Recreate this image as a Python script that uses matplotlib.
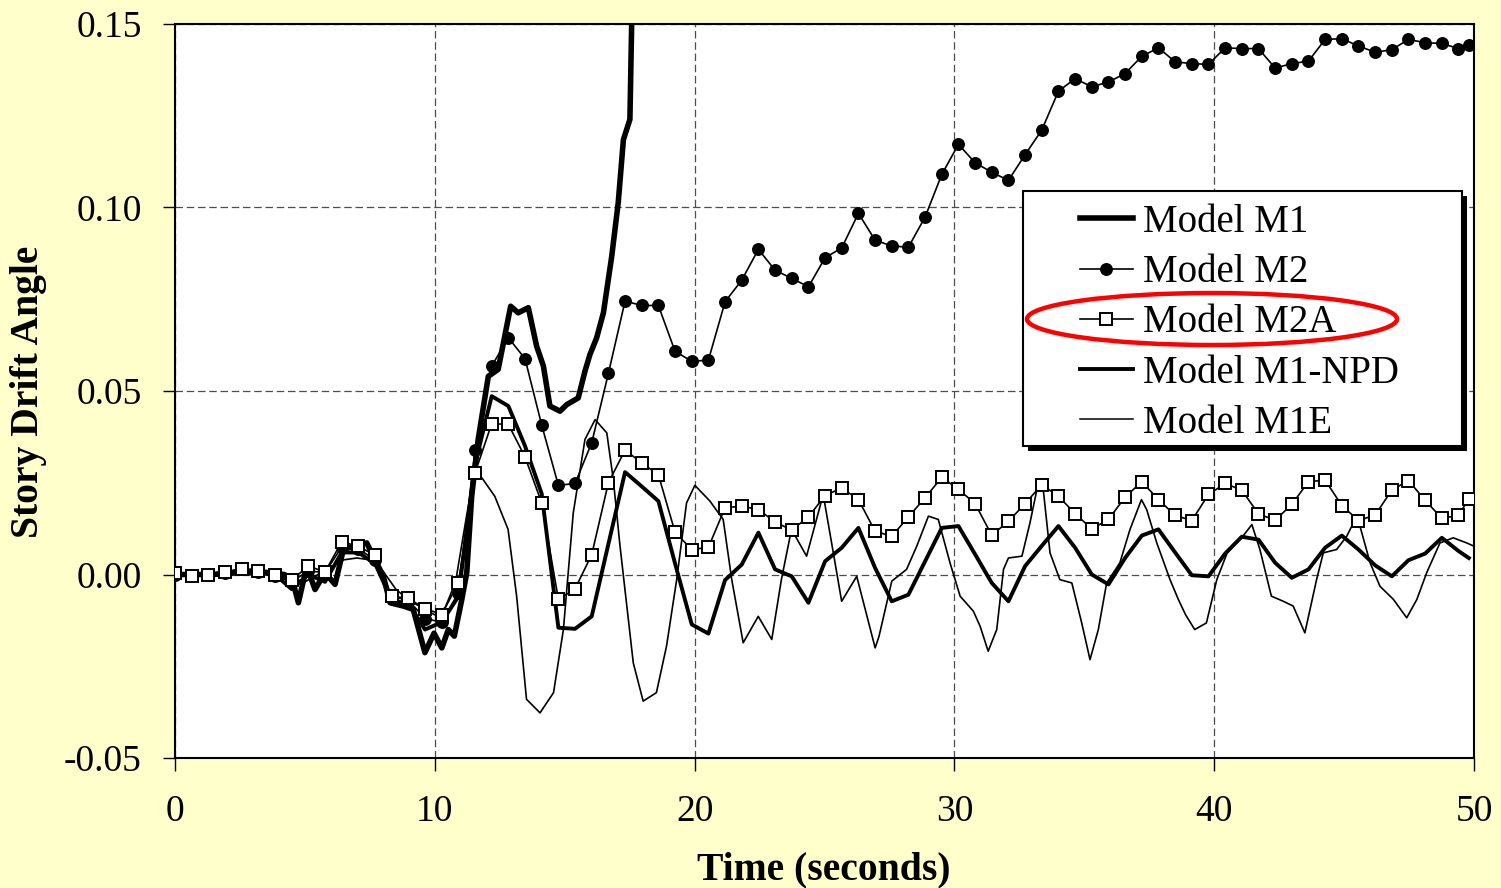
import numpy as np
import matplotlib
matplotlib.use("Agg")
import matplotlib.pyplot as plt
from matplotlib.patches import Rectangle, Ellipse
from matplotlib.lines import Line2D

plt.rcParams['font.family'] = ['Liberation Serif', 'DejaVu Serif']
plt.rcParams['axes.unicode_minus'] = False

# ---------------- data ----------------
# sample times for the marker series (M2, M2A) and M1-NPD vertices
t_grid = [round(i * 0.6416, 3) for i in range(78)] + [49.8]

m2 = [0.0, 0.0, 0.0, 0.0005, 0.0015, 0.0008, -0.0003, -0.002, 0.001, 0.0005,
      0.0075, 0.007, 0.004, -0.006, -0.007, -0.012, -0.013, -0.005, 0.034, 0.0568,
      0.0645, 0.0588, 0.0407, 0.0243, 0.0248, 0.0359, 0.0548, 0.0745, 0.0733, 0.0733,
      0.0608, 0.0581, 0.0584, 0.0743, 0.0802, 0.0886, 0.0829, 0.0807, 0.0784, 0.0863,
      0.089, 0.0984, 0.0911, 0.0895, 0.0892, 0.0974, 0.109, 0.1172, 0.1122, 0.1096,
      0.1074, 0.1144, 0.1211, 0.1317, 0.1351, 0.1329, 0.1342, 0.1365, 0.1412, 0.1435,
      0.1397, 0.1392, 0.139, 0.1435, 0.1433, 0.1433, 0.138, 0.1392, 0.1399, 0.1458,
      0.146, 0.144, 0.1423, 0.143, 0.1458, 0.1449, 0.1447, 0.1433, 0.1444]

m2a = [0.0003, -0.0003, 0.0, 0.0007, 0.0016, 0.0009, -0.0002, -0.0015, 0.0023, 0.0007,
       0.0089, 0.0077, 0.0052, -0.0059, -0.0065, -0.0093, -0.0109, -0.0023, 0.0277, 0.0411,
       0.0409, 0.032, 0.0195, -0.0068, -0.0039, 0.0054, 0.025, 0.0339, 0.0304, 0.0272,
       0.0115, 0.0068, 0.0074, 0.0182, 0.0186, 0.0177, 0.0143, 0.0121, 0.0157, 0.0215,
       0.0236, 0.0204, 0.0118, 0.0104, 0.0157, 0.0209, 0.0265, 0.0232, 0.0193, 0.0107,
       0.0145, 0.0193, 0.0245, 0.0213, 0.0166, 0.0124, 0.015, 0.0211, 0.0253, 0.0204,
       0.0161, 0.0147, 0.0218, 0.0248, 0.023, 0.0165, 0.0148, 0.0191, 0.0253, 0.0257,
       0.0188, 0.0147, 0.0162, 0.023, 0.0256, 0.0202, 0.0153, 0.0161, 0.0206]

m1_npd = [0.0, 0.0, 0.0, 0.0005, 0.001, 0.0005, 0.0, -0.004, 0.0, -0.002,
          0.006, 0.006, 0.003, -0.007, -0.008, -0.015, -0.013, -0.006, 0.03, 0.0486,
          0.0459, 0.035, 0.022, -0.0145, -0.0148, -0.0114, 0.0083, 0.0279, 0.024, 0.02,
          0.003, -0.0136, -0.0161, -0.0015, 0.0027, 0.0114, 0.0014, -0.0005, -0.0077, 0.0036,
          0.0073, 0.0127, 0.0018, -0.0073, -0.0055, 0.0036, 0.0127, 0.0132, 0.0055, -0.0023,
          -0.0073, 0.0023, 0.0078, 0.0132, 0.0073, 0.0, -0.0027, 0.0045, 0.0106, 0.0123,
          0.006, -0.0002, -0.0005, 0.0057, 0.0103, 0.0095, 0.0032, -0.0009, 0.0014, 0.0073,
          0.0106, 0.0068, 0.0025, -0.0005, 0.0039, 0.0057, 0.01, 0.0064, 0.0045]

t_m1 = [0, 1.5, 3.0, 4.2, 4.5, 4.75, 5.07, 5.39, 5.77, 6.16, 6.48, 6.86, 7.38, 7.63,
        8.02, 8.28, 8.79, 9.17, 9.62, 9.97, 10.27, 10.52, 10.75, 11.04, 11.23, 11.42,
        11.67, 12.06, 12.44, 12.92, 13.21, 13.6, 13.92, 14.18, 14.43, 14.82, 15.08,
        15.52, 15.78, 15.97, 16.23, 16.49, 16.81, 17.06, 17.26, 17.51, 17.58, 17.64]
m1 = [0.0, 0.0, 0.001, 0.0, -0.001, -0.0077, 0.0023, -0.0041, 0.0005, -0.0027, 0.0068,
      0.0077, 0.0086, 0.005, -0.0005, -0.0077, -0.0086, -0.0095, -0.0213, -0.016, -0.02,
      -0.015, -0.0168, -0.0068, 0.0005, 0.0213, 0.0368, 0.054, 0.0559, 0.0731, 0.0713,
      0.0727, 0.0622, 0.0568, 0.0459, 0.0445, 0.0463, 0.0481, 0.0554, 0.0599, 0.0645,
      0.0713, 0.0867, 0.1013, 0.1185, 0.124, 0.151, 0.17]

t_m1e = [0, 4.0, 4.5, 5.0, 5.5, 6.0, 6.5, 7.0, 7.5, 8.0, 8.5, 9.0, 9.5, 10.0, 10.4, 10.8,
         11.2, 11.55, 12.31, 12.82, 13.15, 13.53, 14.05, 14.57, 14.95, 15.33, 15.78, 16.17,
         16.62, 16.87, 17.13, 17.64, 18.02, 18.53, 18.92, 19.31, 19.69, 20.01, 20.59, 21.1,
         21.43, 21.87, 22.45, 22.97, 23.34, 23.73, 24.31, 24.95, 25.34, 25.66, 26.24, 26.95,
         27.1, 27.59, 28.16, 28.55, 29.0, 29.38, 29.83, 30.22, 30.73, 30.99, 31.3, 31.63,
         31.89, 32.08, 32.6, 32.91, 33.23, 33.42, 33.68, 34.06, 34.52, 34.9, 35.22, 35.54,
         35.86, 36.37, 36.76, 37.2, 37.4, 37.79, 38.3, 38.62, 38.9, 39.25, 39.7, 40.1, 40.5,
         41.1, 41.45, 41.76, 42.2, 42.66, 43.04, 43.49, 43.94, 44.2, 44.71, 45.1, 45.36,
         45.61, 46.0, 46.38, 46.9, 47.41, 47.8, 48.18, 48.69, 49.2, 49.72, 50.0]
m1e = [0.0, 0.0, -0.001, -0.002, 0.0, 0.002, 0.004, 0.0045, 0.004, 0.001, -0.004, -0.007,
       -0.009, -0.011, -0.009, -0.002, 0.015, 0.029, 0.0213, 0.0123, -0.0059, -0.034,
       -0.0377, -0.0322, -0.015, 0.0168, 0.0368, 0.0422, 0.0386, 0.0259, 0.0077, -0.0241,
       -0.0345, -0.0322, -0.0195, -0.0014, 0.0195, 0.0243, 0.02, 0.015, -0.0014, -0.0186,
       -0.0114, -0.0177, -0.0014, 0.0123, 0.005, 0.0218, 0.0059, -0.0073, -0.0005, -0.02,
       -0.0168, -0.0018, 0.0014, 0.0077, 0.0159, 0.015, 0.0032, -0.0059, -0.01, -0.0141,
       -0.0209, -0.015, 0.0014, 0.0045, 0.005, 0.0141, 0.025, 0.0232, 0.0059, -0.0014,
       -0.0023, -0.0132, -0.0232, -0.015, -0.0023, 0.0032, 0.0123, 0.0204, 0.0177, 0.0086,
       -0.0014, -0.0068, -0.011, -0.015, -0.0132, -0.0014, 0.0059, 0.0104, 0.0136, 0.0068,
       -0.0059, -0.0073, -0.0086, -0.0159, -0.0014, 0.0059, 0.0068, 0.0104, 0.0141, 0.0132,
       0.0032, -0.0032, -0.0068, -0.0118, -0.0068, 0.0005, 0.0086, 0.01, 0.0086, 0.0077]

labels = ["Model M1", "Model M2", "Model M2A", "Model M1-NPD", "Model M1E"]
x_ticks = [0, 10, 20, 30, 40, 50]
y_ticks = [-0.05, 0.0, 0.05, 0.10, 0.15]

# ---------------- figure ----------------
W, H = 1501, 888
fig = plt.figure(figsize=(W / 100, H / 100), dpi=100, facecolor='#FFFFCC')
L, R, T, B = 175, 1474, 24, 758
ax = fig.add_axes([L / W, 1 - B / H, (R - L) / W, (B - T) / H])
ax.set_facecolor('white')

MS = 8.3
ax.plot(t_m1, m1, color='black', lw=4.0, zorder=3, solid_joinstyle='round')
ax.plot(t_grid, m1_npd, color='black', lw=2.8, zorder=3, solid_joinstyle='round')
ax.plot(t_m1e, m1e, color='black', lw=1.2, zorder=3, solid_joinstyle='round')
ax.plot(t_grid, m2, color='black', lw=1.2, marker='o', ms=MS, mfc='black', mec='black', zorder=4)
ax.plot(t_grid, m2a, color='black', lw=1.2, marker='s', ms=MS, mfc='white', mec='black',
        mew=1.4, zorder=5)

ax.set_xlim(0, 50)
ax.set_ylim(-0.05, 0.15)
ax.set_xticks(x_ticks)
ax.set_yticks(y_ticks)
ax.set_xticklabels([str(v) for v in x_ticks])
ax.set_yticklabels([f"{v:.2f}" for v in y_ticks])
ax.tick_params(axis='both', direction='out', length=9, width=1, colors='black', labelsize=27)
ax.tick_params(axis='y', pad=15)
ax.tick_params(axis='x', pad=17)
for s in ax.spines.values():
    s.set_color('black')
    s.set_linewidth(1.5)

ax.grid(True, color='0.3', lw=0.9, linestyle=(0, (6, 3)))
ax.set_axisbelow(True)

ax.set_xlabel("Time (seconds)", fontsize=28.5, fontweight='bold')
ax.set_ylabel("Story Drift Angle", fontsize=28.5, fontweight='bold')
ax.xaxis.label.set_va('center')
ax.yaxis.label.set_va('center')
ax.xaxis.set_label_coords((824 - L) / (R - L), -(870 - B) / (B - T))
ax.yaxis.set_label_coords(-(175 - 29) / (R - L), (B - 392) / (B - T))

# ---------------- legend (frame + shadow drawn in pixel coords) ----------------
def px2ax(x, y):
    return ((x - L) / (R - L), (B - y) / (B - T))

lx0, ly0, lx1, ly1 = 1023, 191, 1462, 446
x0, y0 = px2ax(lx0, ly1)
x1, y1 = px2ax(lx1, ly0)
sx, sy = 5 / (R - L), 5 / (B - T)
ax.add_patch(Rectangle((x0 + sx, y0 - sy), x1 - x0, y1 - y0, transform=ax.transAxes,
                       facecolor='black', edgecolor='black', lw=0, zorder=8, clip_on=False))
ax.add_patch(Rectangle((x0, y0), x1 - x0, y1 - y0, transform=ax.transAxes,
                       facecolor='white', edgecolor='black', lw=1.5, zorder=9, clip_on=False))

handles = [
    Line2D([], [], color='black', lw=4.0),
    Line2D([], [], color='black', lw=1.2, marker='o', ms=MS, mfc='black', mec='black'),
    Line2D([], [], color='black', lw=1.2, marker='s', ms=MS, mfc='white', mec='black', mew=1.4),
    Line2D([], [], color='black', lw=2.8),
    Line2D([], [], color='black', lw=1.1),
]
lax, lay = px2ax(1080, 204)
leg = ax.legend(handles, labels, loc='upper left', bbox_to_anchor=(lax, lay),
                frameon=False, fontsize=28, borderpad=0, borderaxespad=0,
                handlelength=1.36, handletextpad=0.25, labelspacing=0.34)
leg.set_zorder(10)

# red highlight ellipse around "Model M2A"
fig.add_artist(Ellipse((1212 / W, 1 - 319 / H), 370 / W, 52 / H, transform=fig.transFigure,
                       facecolor='none', edgecolor='#FF0000', lw=3.2, zorder=20))

fig.savefig("out.png", dpi=100, facecolor=fig.get_facecolor())
